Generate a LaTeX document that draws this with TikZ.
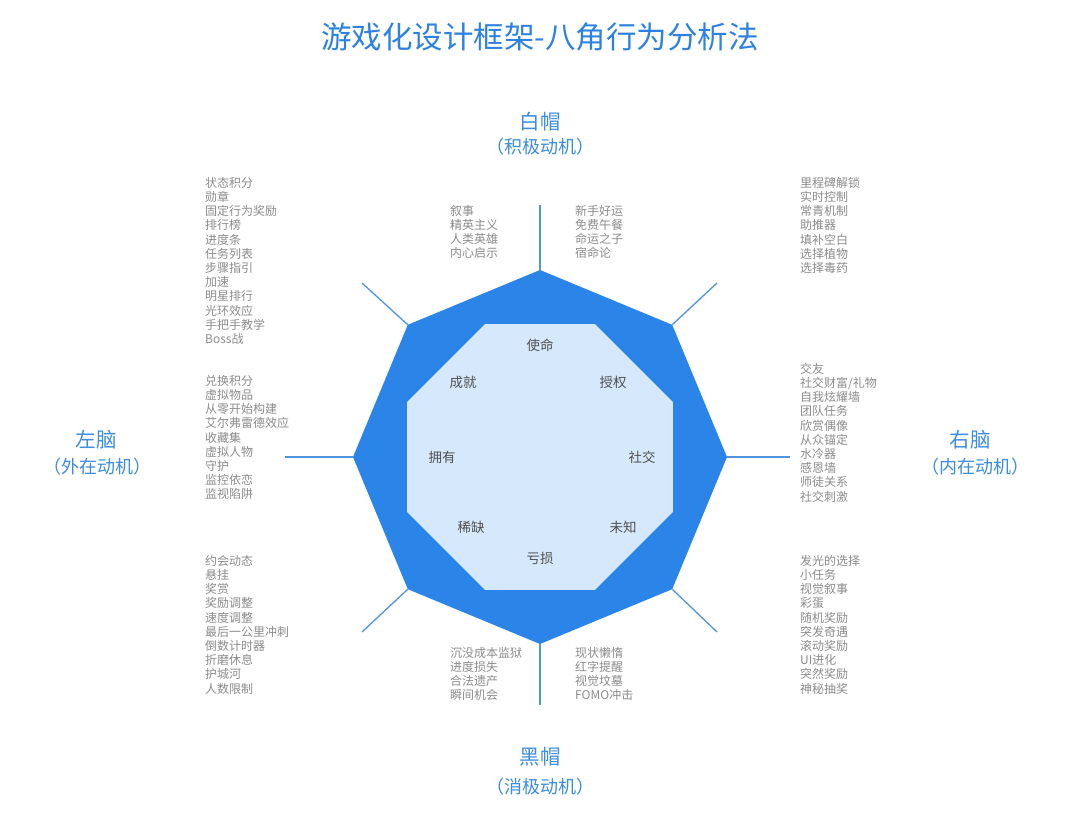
\documentclass[tikz,border=0pt]{standalone}
\usepackage{fontspec}
\setmainfont{Noto Sans CJK SC}
\usetikzlibrary{calc}
\definecolor{band}{RGB}{43,132,232}
\definecolor{innerfill}{RGB}{214,232,251}
\definecolor{ttl}{RGB}{45,130,225}
\definecolor{axlbl}{RGB}{60,140,225}
\definecolor{lst}{RGB}{140,140,140}
\definecolor{lbl}{RGB}{80,80,80}
\definecolor{conncol}{RGB}{80,148,225}
\newcommand\drawlist[4]{%
  \foreach \t [count=\i] in {#4} {%
    \node[listtxt] (#1-\i) at (#2,{#3+(\i-1)*14.2+4.3}) {\t};}}
\begin{document}
\begin{tikzpicture}[x=1pt,y=-1pt,
  listtxt/.style={anchor=base west, inner sep=0pt, text=lst, font=\fontsize{12}{12}\selectfont},
  inlbl/.style={inner sep=0pt, text=lbl, font=\fontsize{13.5}{14}\selectfont},
  axmain/.style={inner sep=0pt, text=axlbl, font=\fontsize{20.5}{22}\selectfont},
  axsub/.style={inner sep=0pt, text=axlbl, font=\fontsize{18}{19}\selectfont},
  conn/.style={draw=conncol, line width=1.3pt},
  titlestyle/.style={inner sep=0pt, text=ttl, font=\fontsize{30.5}{32}\selectfont}]
\useasboundingbox (0,0) rectangle (1080,818);
\fill[white] (0,0) rectangle (1080,818);

\node[titlestyle] (title) at (540,37) {游戏化设计框架-八角行为分析法};

% outer octagon vertices
\coordinate (c) at (540,457);
\coordinate (vt) at (540,270);
\coordinate (vtr) at (672.2,324.8);
\coordinate (vr) at (727,457);
\coordinate (vbr) at (672.2,589.2);
\coordinate (vb) at (540,644);
\coordinate (vbl) at (407.8,589.2);
\coordinate (vl) at (353,457);
\coordinate (vtl) at (407.8,324.8);
\fill[band] (vt) -- (vtr) -- (vr) -- (vbr) -- (vb) -- (vbl) -- (vl) -- (vtl) -- cycle;

% inner octagon
\fill[innerfill] (595,324.2) -- (672.8,402) -- (672.8,512) -- (595,589.8)
  -- (485,589.8) -- (407.2,512) -- (407.2,402) -- (485,324.2) -- cycle;

% connector end points
\coordinate (et) at (540,205);
\coordinate (etr) at (717,283);
\coordinate (er) at (790,457);
\coordinate (ebr) at (717,632);
\coordinate (eb) at (540,705);
\coordinate (ebl) at (362,632);
\coordinate (el) at (285,457);
\coordinate (etl) at (362,283);
\draw[conn] (vt) -- (et);
\draw[conn] (vtr) -- (etr);
\draw[conn] (vr) -- (er);
\draw[conn] (vbr) -- (ebr);
\draw[conn] (vb) -- (eb);
\draw[conn] (vbl) -- (ebl);
\draw[conn] (vl) -- (el);
\draw[conn] (vtl) -- (etl);

% inner labels
\node[inlbl] (d1) at (540,345) {使命};
\node[inlbl] (d2) at (613,382) {授权};
\node[inlbl] (d3) at (642,457) {社交};
\node[inlbl] (d4) at (623,527) {未知};
\node[inlbl] (d5) at (540,558) {亏损};
\node[inlbl] (d6) at (471,527) {稀缺};
\node[inlbl] (d7) at (442,457) {拥有};
\node[inlbl] (d8) at (463,382) {成就};

% axis labels
\node[axmain] (wh) at (540,122) {白帽};
\node[axsub] (whs) at (540,147) {（积极动机）};
\node[axmain] (lb) at (96,440) {左脑};
\node[axsub] (lbs) at (97,467) {（外在动机）};
\node[axmain] (rb) at (970,440) {右脑};
\node[axsub] (rbs) at (975,467) {（内在动机）};
\node[axmain] (bh) at (540,757) {黑帽};
\node[axsub] (bhs) at (540,787) {（消极动机）};

% lists
\drawlist{tl}{205}{183}{状态积分,勋章,固定行为奖励,排行榜,进度条,任务列表,步骤指引,加速,明星排行,光环效应,手把手教学,Boss战}
\drawlist{tml}{450}{211}{叙事,精英主义,人类英雄,内心启示}
\drawlist{tmr}{575}{211}{新手好运,免费午餐,命运之子,宿命论}
\drawlist{tr}{800}{183}{里程碑解锁,实时控制,常青机制,助推器,填补空白,选择植物,选择毒药}
\drawlist{ml}{205}{381}{兑换积分,虚拟物品,从零开始构建,艾尔弗雷德效应,收藏集,虚拟人物,守护,监控依恋,监视陷阱}
\drawlist{mr}{800}{369}{交友,社交财富/礼物,自我炫耀墙,团队任务,欣赏偶像,从众锚定,水冷器,感恩墙,师徒关系,社交刺激}
\drawlist{bl}{205}{561}{约会动态,悬挂,奖赏,奖励调整,速度调整,最后一公里冲刺,倒数计时器,折磨休息,护城河,人数限制}
\drawlist{bml}{450}{653}{沉没成本监狱,进度损失,合法遗产,瞬间机会}
\drawlist{bmr}{575}{653}{现状懒惰,红字提醒,视觉坟墓,FOMO冲击}
\drawlist{br}{800}{561}{发光的选择,小任务,视觉叙事,彩蛋,随机奖励,突发奇遇,滚动奖励,UI进化,突然奖励,神秘抽奖}
\end{tikzpicture}
\end{document}
